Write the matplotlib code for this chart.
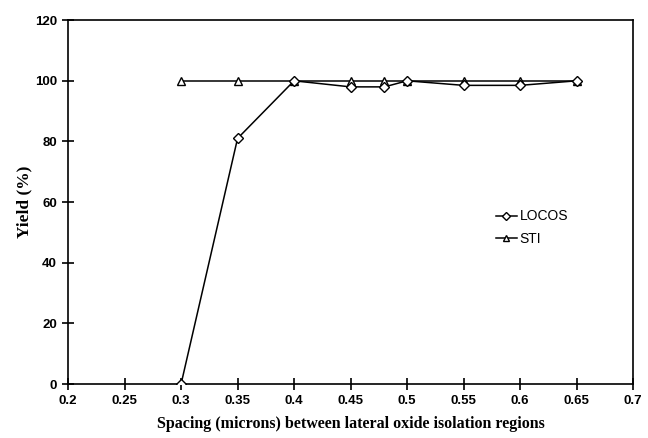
import matplotlib
matplotlib.use("Agg")
import matplotlib.pyplot as plt

## datos
spacing = [0.3, 0.35, 0.4, 0.45, 0.48, 0.5, 0.55, 0.6, 0.65]
locos = [0, 81, 100, 98, 98, 100, 98.5, 98.5, 100]
sti = [100, 100, 100, 100, 100, 100, 100, 100, 100]
xticks = [0.2, 0.25, 0.3, 0.35, 0.4, 0.45, 0.5, 0.55, 0.6, 0.65, 0.7]
yticks = [0, 20, 40, 60, 80, 100, 120]

fig = plt.figure(figsize=(6.48, 4.38), dpi=100)
ax = fig.add_axes([0.105, 0.123, 0.872, 0.831])

ax.plot(spacing, locos, color="k", lw=1.1, marker="D", ms=5,
        mfc="white", mec="k", mew=1.0, label="LOCOS", zorder=3)
ax.plot(spacing, sti, color="k", lw=1.1, marker="^", ms=6,
        mfc="white", mec="k", mew=1.0, label="STI", zorder=2)

ax.set_xlim(0.2, 0.7)
ax.set_ylim(0, 120)
ax.set_xticks(xticks)
ax.set_xticklabels([f"{t:g}" for t in xticks])
ax.set_yticks(yticks)

for lab in ax.get_xticklabels() + ax.get_yticklabels():
    lab.set_fontfamily("Liberation Sans")
    lab.set_fontweight("bold")
    lab.set_fontsize(9.5)

ax.tick_params(direction="inout", length=8, width=1.2, pad=4)
for s in ax.spines.values():
    s.set_linewidth(1.2)

ax.set_xlabel("Spacing (microns) between lateral oxide isolation regions",
              fontfamily="Liberation Serif", fontweight="bold", fontsize=11.5, labelpad=6)
ax.set_ylabel("Yield (%)", fontfamily="Liberation Serif", fontweight="bold",
              fontsize=12.5, labelpad=2)

ax.legend(loc="center left", bbox_to_anchor=(0.735, 0.43), frameon=False,
          prop={"family": "Liberation Sans", "size": 10},
          handlelength=1.5, handletextpad=0.2, labelspacing=0.6, markerscale=0.8)

fig.savefig("out.png", dpi=100)
